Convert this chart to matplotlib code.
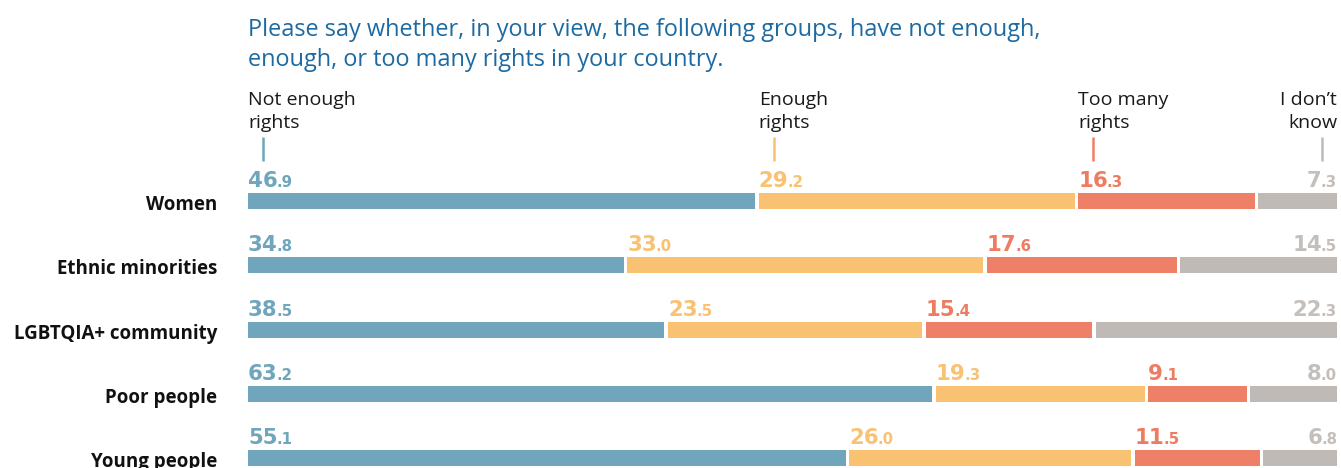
import matplotlib
matplotlib.use("Agg")
import matplotlib.pyplot as plt
from matplotlib.transforms import IdentityTransform

plt.rcParams['font.family'] = ['Open Sans', 'DejaVu Sans']

title = ("Please say whether, in your view, the following groups, have not enough,\n"
         "enough, or too many rights in your country.")
groups = ["Women", "Ethnic minorities", "LGBTQIA+ community", "Poor people", "Young people"]
answers = ["Not enough\nrights", "Enough\nrights", "Too many\nrights", "I don\u2019t\nknow"]
not_enough = [46.9, 34.8, 38.5, 63.2, 55.1]
enough = [29.2, 33.0, 23.5, 19.3, 26.0]
too_many = [16.3, 17.6, 15.4, 9.1, 11.5]
dont_know = [7.3, 14.5, 22.3, 8.0, 6.8]

bar_colors = ["#6fa6bb", "#f9c273", "#ee8068", "#bfbab6"]
label_colors = ["#6fa6bb", "#f9c273", "#ee7c63", "#c4bfbb"]
title_color = "#1c6aa3"

W, H, DPI = 1341, 468, 100
fig = plt.figure(figsize=(W / DPI, H / DPI), dpi=DPI)

# axes: x 0..100 spans the bar area, y rows are one unit apart
left_px, right_px = 248, 1337
row0_px, row_step_px = 201, 64.25
ax = fig.add_axes([left_px / W, 0, (right_px - left_px) / W, 1])
ax.set_xlim(0, 100)
ax.set_ylim((H - row0_px) / row_step_px, -row0_px / row_step_px)
ax.axis("off")

px_x = 100 / (right_px - left_px)    # data units per pixel (x)
px_y = 1 / row_step_px               # data units per pixel (y)

gap = 3.5 * px_x
bar_h = 16 * px_y

series = [not_enough, enough, too_many, dont_know]
starts = []
for i, g in enumerate(groups):
    vals = [s[i] for s in series]
    k = (100 - gap * (len(vals) - 1)) / sum(vals)
    x = 0
    row_starts = []
    for j, v in enumerate(vals):
        w = v * k
        ax.barh(i, w, left=x, height=bar_h, color=bar_colors[j], linewidth=0)
        row_starts.append((x, x + w))
        x += w + gap
    starts.append(row_starts)
    ax.text(-31 * px_x, i + 9 * px_y, g, ha="right", va="baseline",
            fontsize=13.5, fontweight="bold", color="#111111")

fig.canvas.draw()
renderer = fig.canvas.get_renderer()

num_font = "DejaVu Sans"
big_fs, small_fs = 15.3, 10.8
for i in range(len(groups)):
    for j, s in enumerate(series):
        v = s[i]
        main, dec = f"{v:.1f}".split(".")
        base_y = i - 14 * px_y
        x0, x1 = starts[i][j]
        if j < len(series) - 1:
            t = ax.text(x0, base_y, main, ha="left", va="baseline", fontsize=big_fs,
                        fontweight="bold", color=label_colors[j], family=num_font)
            bb = t.get_window_extent(renderer)
            _, yd = ax.transData.transform((x0, base_y))
            fig.text(bb.x1 - 1, yd, "." + dec, transform=IdentityTransform(),
                     ha="left", va="baseline", fontsize=small_fs, fontweight="bold",
                     color=label_colors[j], family=num_font)
        else:
            t = ax.text(x1, base_y, "." + dec, ha="right", va="baseline", fontsize=small_fs,
                        fontweight="bold", color=label_colors[j], family=num_font)
            bb = t.get_window_extent(renderer)
            _, yd = ax.transData.transform((x1, base_y))
            fig.text(bb.x0 + 1, yd, main, transform=IdentityTransform(),
                     ha="right", va="baseline", fontsize=big_fs, fontweight="bold",
                     color=label_colors[j], family=num_font)

# column headers with small ticks, aligned to the first row's segments
tick_off = 15 * px_x
for j, a in enumerate(answers):
    x0, x1 = starts[0][j]
    if j < len(answers) - 1:
        ax.text(x0, -73 * px_y, a, ha="left", va="baseline", fontsize=14,
                color="#1a1a1a", linespacing=1.35)
        tx = x0 + tick_off
    else:
        ax.text(x1, -73 * px_y, a, ha="right", va="baseline", fontsize=14,
                color="#1a1a1a", linespacing=1.35, multialignment="right")
        tx = x1 - tick_off
    ax.plot([tx, tx], [-64 * px_y, -40 * px_y], color=bar_colors[j], lw=1.8,
            solid_capstyle="butt")

ax.text(0, -135 * px_y, title, ha="left", va="baseline", fontsize=16.9,
        color=title_color, linespacing=1.36)

fig.savefig("out.png", dpi=DPI)
